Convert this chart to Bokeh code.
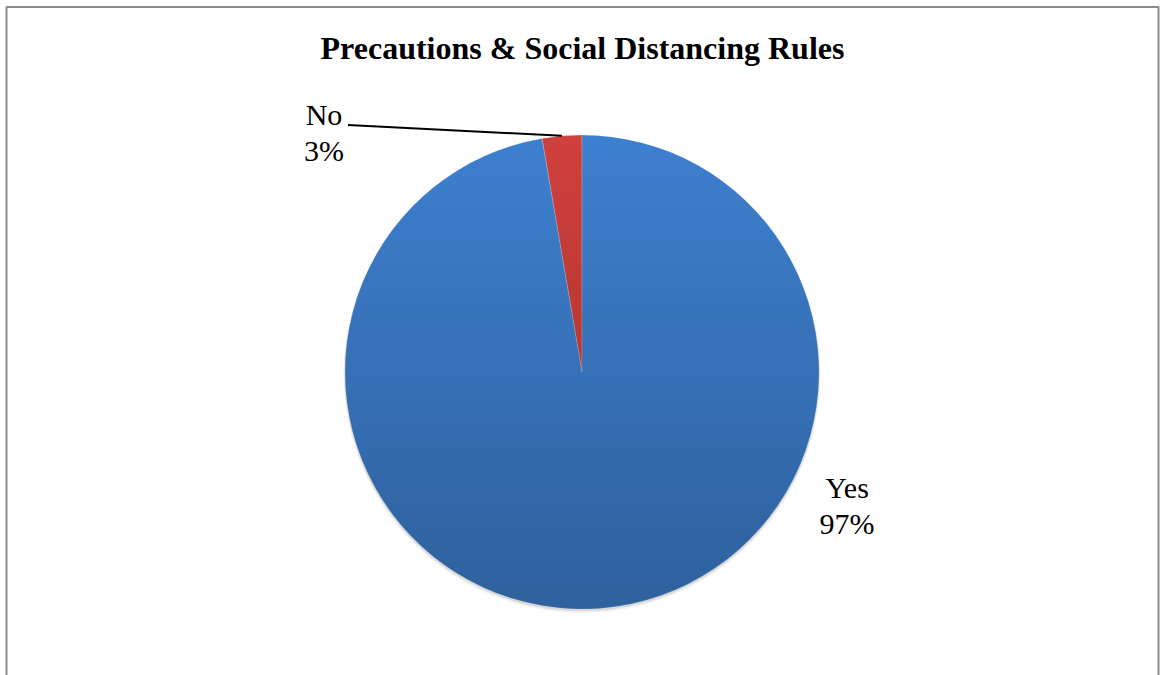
import math
import numpy as np
from bokeh.plotting import figure
from bokeh.models import Range1d, BoxAnnotation, ColumnDataSource
from bokeh.core.properties import value
from bokeh.embed import file_html
from bokeh.resources import INLINE

# ---- data ----
title = "Precautions & Social Distancing Rules"
categories = ["No", "Yes"]
shares = [2.7, 97.3]          # estimated slice sizes (%)
pct_labels = ["3%", "97%"]
colors = ["#d0403c", "#3e80d0"]

W, H = 1160, 675
FONT = "Liberation Serif"

p = figure(width=W, height=H, x_range=Range1d(0, W), y_range=Range1d(0, H),
           output_backend="svg", toolbar_location=None, min_border=0)
p.axis.visible = False
p.grid.visible = False
p.outline_line_color = None
p.background_fill_color = "white"
p.border_fill_color = "white"

# chart frame
p.add_layout(BoxAnnotation(left=6, right=1158, top=H - 6.5, bottom=-20,
                           fill_alpha=0, line_color="#8c8c8c", line_alpha=1.0, line_width=2))

cx, cy, R = 581.5, H - 371.5, 237.0

# soft shadow
p.circle(x=[cx], y=[cy - 2.5], radius=R + 1.5, fill_color="black", fill_alpha=0.06, line_color=None)
p.circle(x=[cx], y=[cy - 1.5], radius=R + 0.5, fill_color="black", fill_alpha=0.10, line_color=None)

# slices, starting at 12 o'clock
total = sum(shares)
starts, ends, mids = [], [], []
a0 = math.pi / 2
for s in shares:
    span = s / total * 2 * math.pi
    starts.append(a0)
    ends.append(a0 + span)
    mids.append(a0 + span / 2)
    a0 += span

src = ColumnDataSource(dict(cat=categories, start=starts, end=ends, color=colors))
p.wedge(x=cx, y=cy, radius=R, start_angle="start", end_angle="end", source=src,
        fill_color="color", line_color="white", line_alpha=0.2, line_width=1)

# vertical shading (darker toward bottom): non-overlapping pixel-aligned bands
top = math.ceil(cy + R) + 1
bot = math.floor(cy - R) - 1
step = 3
xs, ys, alphas = [], [], []
yb = top
while yb > bot:
    y1, y2 = yb, max(yb - step, bot)
    yy = np.linspace(max(min(y1, cy + R), cy - R), max(min(y2, cy + R), cy - R), 6)
    half = np.sqrt(np.clip(R * R - (yy - cy) ** 2, 0, None))
    px = list(cx + half) + list((cx - half)[::-1])
    py = list(yy) + list(yy[::-1])
    py = [min(max(v, y2), y1) for v in py]
    xs.append(px)
    ys.append(py)
    f = (top - (y1 + y2) / 2) / (top - bot)
    alphas.append(0.25 * f)
    yb = y2
p.patches(xs=xs, ys=ys, fill_color="black", fill_alpha=alphas, line_color=None)

# title
p.text(x=[582], y=[H - 47], text=[title], text_font=value(FONT), text_font_style="bold",
       text_font_size="32px", text_align="center", text_baseline="alphabetic", text_color="black")

# data labels (offset positions relative to centre)
lab_dx = [-258, 265]
lab_dy = [258, -115]
for i, c in enumerate(categories):
    lx, ly = cx + lab_dx[i], cy + lab_dy[i]
    p.text(x=[lx], y=[ly], text=[c], text_font=value(FONT), text_font_size="30px",
           text_align="center", text_baseline="alphabetic", text_color="black")
    p.text(x=[lx], y=[ly - 36], text=[pct_labels[i]], text_font=value(FONT), text_font_size="30px",
           text_align="center", text_baseline="alphabetic", text_color="black")

# leader line for the small slice
i = 0
ex, ey = cx + R * math.cos(mids[i]), cy + R * math.sin(mids[i])
p.line(x=[cx + lab_dx[i] + 24, ex], y=[cy + 247, ey], line_color="black", line_width=2)

open("out.html", "w").write(file_html(p, INLINE))
